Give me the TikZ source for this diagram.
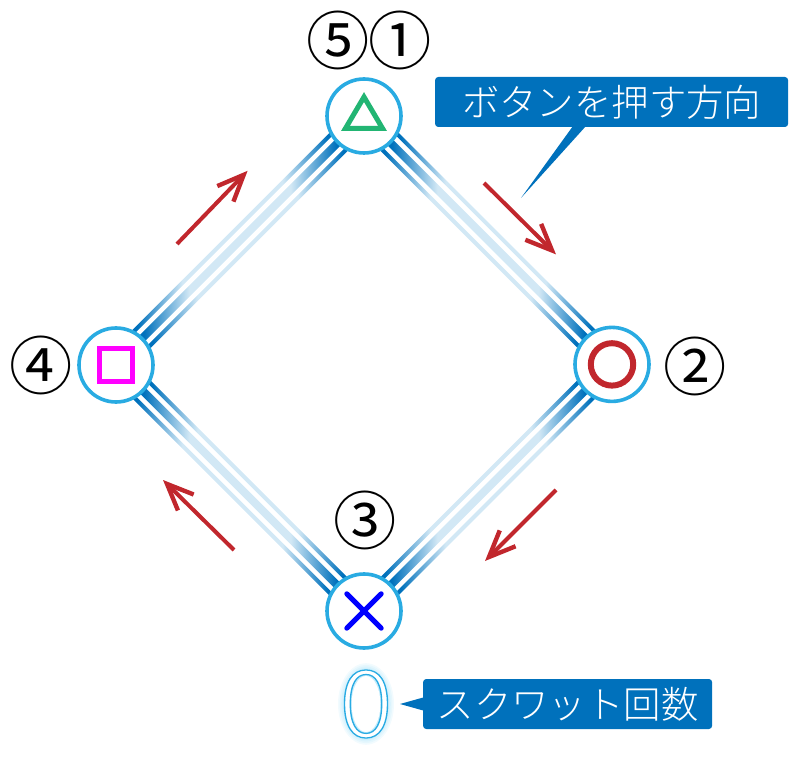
\documentclass[tikz,border=0pt]{standalone}
\usepackage{fontspec}
\usepackage{tikz}
\usetikzlibrary{calc, arrows.meta, backgrounds}
\newfontfamily\jpfont{Noto Sans CJK JP}
\newfontfamily\jplight{Noto Sans CJK JP Light}
\definecolor{tagblue}{HTML}{0071BC}
\definecolor{barlight}{HTML}{D2E8F5}
\definecolor{ringblue}{HTML}{29ABE2}
\definecolor{arrowred}{HTML}{C1272D}
\definecolor{trigreen}{HTML}{22B573}
\pgfdeclarehorizontalshading{barshade}{100bp}{color(0bp)=(tagblue); color(31bp)=(tagblue); color(40bp)=(barlight); color(60bp)=(barlight); color(69bp)=(tagblue); color(100bp)=(tagblue)}
\newcommand{\outlined}[1]{\special{pdf:code q 2 Tr 0.9 w 0.16 0.67 0.89 RG}#1\special{pdf:code 0 Tr Q}}
\tikzset{
  button/.style={circle, draw=ringblue, line width=0.09cm, fill=white, minimum size=1.85cm, inner sep=0},
  bar/.style={shading=barshade, minimum width=8.75cm, inner sep=0, outer sep=0},
  midbar/.style={bar, minimum height=0.2cm},
  sidebar/.style={bar, minimum height=0.1cm},
  pusharrow/.style={arrowred, line width=0.1cm, -{Straight Barb[length=0.66cm, width=0.56cm, line width=0.11cm]}},
  tag/.style={fill=tagblue, text=white, rounded corners=0.08cm, minimum height=1.25cm, inner sep=0, font=\jplight\fontsize{26.6}{30}\selectfont},
  order/.style={inner sep=0, font=\jpfont\fontsize{45}{50}\selectfont},
  symbol/.style={line width=0.125cm}
}
\begin{document}
\begin{tikzpicture}
      \useasboundingbox (0,0) rectangle (20,19.3);
      \node[button] (top) at (9.1,16.4) {};
      \node[button] (right) at (15.3,10.19) {};
      \node[button] (bottom) at (9.1,4.025) {};
      \node[button] (left) at (2.9,10.175) {};
      \begin{pgfonlayer}{background}
      \foreach \a/\b/\r in {top/right/-45, right/bottom/45, bottom/left/-45, left/top/45} {
          \node[midbar, rotate=\r] (\a mid) at ($(\a)!0.5!(\b)$) {};
          \node[sidebar, rotate=\r] (\a one) at ($(\a)!0.5!(\b)!0.27cm!90:(\b)$) {};
          \node[sidebar, rotate=\r] (\a two) at ($(\a)!0.5!(\b)!0.27cm!-90:(\b)$) {};
      }
      \end{pgfonlayer}
      \draw[symbol, trigreen, shift={(top)}] (0,0.475) -- (-0.465,-0.3125) -- (0.465,-0.3125) -- cycle;
      \draw[symbol, arrowred, line width=0.15cm] (right) circle (0.53);
      \draw[symbol, color={rgb,1:red,1;green,0;blue,1}, shift={(left)}] (-0.42,-0.42) rectangle (0.42,0.42);
      \draw[symbol, line cap=round, blue, shift={(bottom)}] (-0.43,0.43) -- (0.43,-0.43) (-0.43,-0.43) -- (0.43,0.43);
      \node[order] (five) at (8.45,18.3) {⑤};
      \node[order] (one) at (10,18.3) {①};
      \node[order] (two) at (17.375,10.15) {②};
      \node[order] (three) at (9.125,6.3) {③};
      \node[order] (four) at (1.025,10.175) {④};
      \coordinate (a1s) at (12.1,14.725);
      \coordinate (a1e) at (13.9,12.94);
      \coordinate (a2s) at (13.9,7.05);
      \coordinate (a2e) at (12.125,5.275);
      \coordinate (a3s) at (5.85,5.55);
      \coordinate (a3e) at (4.075,7.3);
      \coordinate (a4s) at (4.425,13.2);
      \coordinate (a4e) at (6.19,15.03);
      \foreach \i in {1, 2, 3, 4}
          \draw[pusharrow] (a\i s) -- (a\i e);
      \node[tag, minimum width=8.825cm] (dirtag) at (15.29,16.75) {ボタンを押す方向};
      \coordinate (dirtip) at (13.025,14.35);
      \fill[tagblue] (14.325,16.15) -- (dirtip) -- (14.65,16.15) -- cycle;
      \node[tag, minimum width=7.225cm] (counttag) at (14.19,1.7) {スクワット回数};
      \coordinate (counttip) at (10,1.7);
      \fill[tagblue] ([yshift=0.16cm]counttag.west) -- (counttip) -- ([yshift=-0.16cm]counttag.west) -- cycle;
      \coordinate (zeromid) at (9.15,1.7);
      \foreach \g in {0.2, 0.16, 0.12, 0.08, 0.04}
          \fill[cyan, opacity=0.05] (zeromid) ellipse ({0.5+\g} and {0.82+\g});
      \fill[white] (zeromid) ellipse (0.36 and 0.7);
      \node[inner sep=0, text=white, xscale=1.08, font=\jplight\fontsize{66}{70}\selectfont] (zero) at (zeromid) {\outlined{0}};
\end{tikzpicture}
\end{document}
